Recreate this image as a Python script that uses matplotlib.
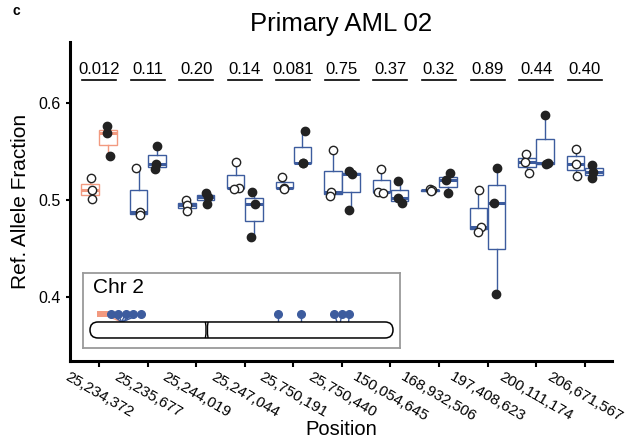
import numpy as np
import matplotlib

matplotlib.use("Agg")
import matplotlib.pyplot as plt
from matplotlib.patches import FancyBboxPatch, Rectangle, PathPatch
from matplotlib.path import Path

plt.rcParams["font.family"] = ["Liberation Sans", "DejaVu Sans"]

# SNP positions on chr 2 (x categories)
positions = ["25,234,372", "25,235,677", "25,244,019", "25,247,044", "25,750,191",
             "25,750,440", "150,054,645", "168,932,506", "197,408,623",
             "200,111,174", "206,671,567"]
p_values = ["0.012", "0.11", "0.20", "0.14", "0.081", "0.75", "0.37", "0.32",
            "0.89", "0.44", "0.40"]

# reference allele fraction, open-circle group (left box)
open_vals = [
    [0.523, 0.510, 0.501],
    [0.533, 0.488, 0.484],
    [0.500, 0.4945, 0.489],
    [0.5395, 0.5127, 0.511],
    [0.524, 0.5127, 0.511],
    [0.552, 0.5086, 0.5045],
    [0.5316, 0.5086, 0.5075],
    [0.511, 0.510, 0.509],
    [0.510, 0.4725, 0.4673],
    [0.547, 0.5395, 0.5275],
    [0.5529, 0.5368, 0.5247],
]
# filled-circle group (right box)
filled_vals = [
    [0.576, 0.569, 0.545],
    [0.556, 0.537, 0.532],
    [0.507, 0.503, 0.496],
    [0.5086, 0.4955, 0.462],
    [0.571, 0.538, 0.538],
    [0.530, 0.5265, 0.4897],
    [0.5196, 0.5017, 0.4966],
    [0.5275, 0.5206, 0.507],
    [0.5333, 0.4966, 0.403],
    [0.5876, 0.538, 0.537],
    [0.536, 0.529, 0.523],
]
highlight = [True] + [False] * 10  # first SNP drawn in orange

chr_len_mb = 242.2
centromere_mb = 93.3

BLUE = "#3d5c9e"
ORANGE = "#f29a80"

fig = plt.figure(figsize=(6.25, 4.42), dpi=100)
ax = fig.add_axes([0.112, 0.1833, 0.867, 0.722])

x = np.arange(1, len(positions) + 1)
off, w = 0.187, 0.36
rng = np.random.default_rng(7)

for i, xi in enumerate(x):
    c = ORANGE if highlight[i] else BLUE
    for vals, dx, face in ((open_vals[i], -off, "white"), (filled_vals[i], off, "#222222")):
        ax.boxplot([vals], positions=[xi + dx], widths=w, patch_artist=True,
                   showcaps=False, showfliers=False, manage_ticks=False,
                   boxprops=dict(facecolor="white", edgecolor=c, lw=1.0),
                   whiskerprops=dict(color=c, lw=1.0),
                   medianprops=dict(color=c, lw=2.2), zorder=2)
        jit = rng.uniform(-0.06, 0.06, len(vals))
        ax.scatter(xi + dx + jit, vals, s=36, facecolor=face, edgecolor="#222222",
                   lw=1.0, zorder=3)
    ax.plot([xi - 0.35, xi + 0.35], [0.6237, 0.6237], color="black", lw=1.2)
    ax.text(xi, 0.6345, p_values[i], ha="center", va="center", fontsize=12)

ax.set_xlim(0.40, 11.56)
ax.set_ylim(0.334, 0.663)
ax.set_yticks([0.4, 0.5, 0.6])
ax.set_xticks(x)
ax.set_xticklabels(positions, rotation=-30, ha="center", va="top", fontsize=11)
ax.tick_params(axis="y", labelsize=11.5, length=3, width=1.5)
ax.tick_params(axis="x", length=4, width=1.5, pad=2)
for s in ("top", "right"):
    ax.spines[s].set_visible(False)
for s in ("left", "bottom"):
    ax.spines[s].set_linewidth(2.2)
ax.set_ylabel("Ref. Allele Fraction", fontsize=15, labelpad=6)
ax.set_xlabel("Position", fontsize=14.5, labelpad=-3)
ax.set_title("Primary AML 02", fontsize=18.5, pad=8)
fig.text(0.02, 0.99, "c", fontsize=10, weight="bold", va="top")

# chromosome 2 ideogram inset
ins = fig.add_axes([0.1328, 0.2127, 0.5072, 0.1697])
ins.set_xlim(-5.6, 247.8)
ins.set_ylim(0, 75)
ins.set_xticks([])
ins.set_yticks([])
for s in ins.spines.values():
    s.set_color("#9a9a9a")
    s.set_linewidth(1.3)
ins.text(2.4, 60, "Chr 2", fontsize=15, va="center", ha="left")

ins.add_patch(FancyBboxPatch((0, 10), chr_len_mb, 16,
                             boxstyle="round,pad=0,rounding_size=6.4",
                             mutation_aspect=1.25, facecolor="white",
                             edgecolor="black", lw=1.1, zorder=2))
cm = centromere_mb
for a, b in ((-1.1, 0.2), (1.1, -0.2)):
    verts = [(cm + a, 26), (cm + b, 18), (cm + a, 10)]
    ins.add_patch(PathPatch(Path(verts, [Path.MOVETO, Path.CURVE3, Path.CURVE3]),
                            facecolor="none", edgecolor="black", lw=1.0, zorder=3))

pos_mb = np.array([int(p.replace(",", "")) for p in positions]) / 1e6
# simple repel so lollipop heads do not overlap
disp = pos_mb.copy()
gap = 6.0
for _ in range(300):
    for j in range(len(disp) - 1):
        d = disp[j + 1] - disp[j]
        if d < gap:
            shift = (gap - d) / 2
            disp[j] -= shift
            disp[j + 1] += shift

for j in range(len(pos_mb)):
    c = ORANGE if highlight[j] else BLUE
    ins.plot([disp[j], pos_mb[j]], [34, 26], color=c, lw=1.0, zorder=1)
for j in range(len(pos_mb)):
    if highlight[j]:
        ins.add_patch(Rectangle((disp[j] - 4.5, 30.5), 9.0, 6.5, facecolor=ORANGE,
                                edgecolor="none", zorder=3))
    else:
        ins.plot(disp[j], 34, "o", ms=5.5, color=BLUE, zorder=4)

fig.savefig("out.png", dpi=100)
